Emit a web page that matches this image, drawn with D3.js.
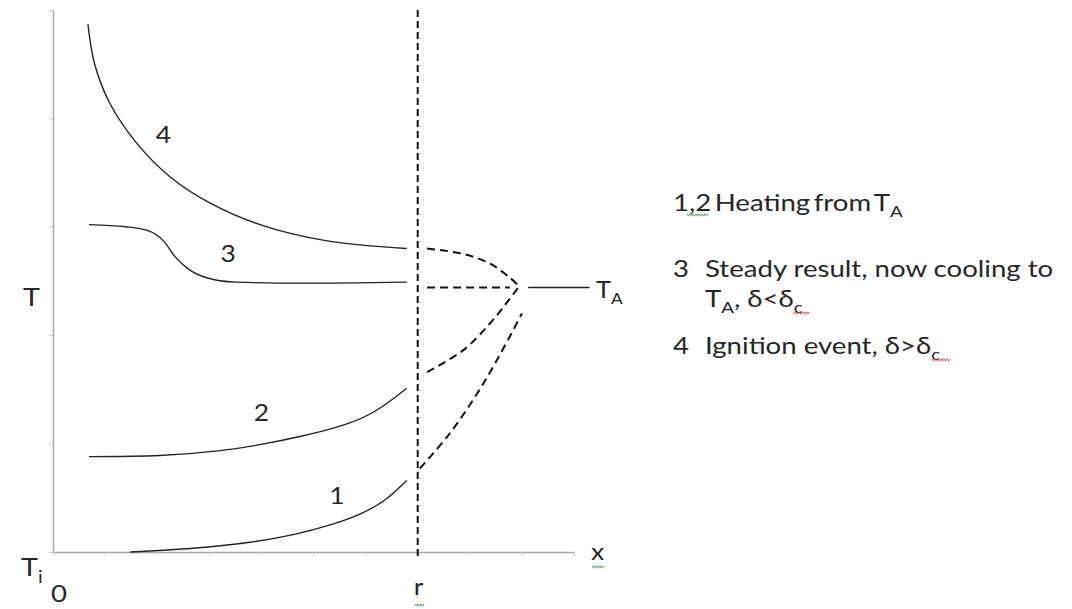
<!DOCTYPE html>
<html>
<head>
<meta charset="utf-8">
<script src="https://cdn.jsdelivr.net/npm/d3@7"></script>
<style>
  html, body { margin: 0; padding: 0; background: #fff; }
  svg { display: block; }
  text { font-family: Lato, "Noto Sans", sans-serif; fill: #262626; }
</style>
</head>
<body>
<svg id="chart" width="1072" height="609"></svg>
<script>
// Temperature profiles across a slab, centre (0) to surface (r)
const xTicks = d3.range(0, 11);
const yTicks = d3.range(0, 6);
const rValue = 7;           // surface position
const tAmbient = 2.44;      // ambient temperature level T_A

// solid profiles inside the body, [x, T]
const profile1 = [[1.48, 0], [2.69, 0.035], [3.78, 0.09], [4.61, 0.16], [5.32, 0.25], [5.89, 0.35], [6.37, 0.48], [6.79, 0.66]];
const profile2 = [[0.69, 0.88], [2.05, 0.89], [3.21, 0.935], [3.97, 0.99], [4.74, 1.065], [5.57, 1.17], [6.22, 1.31], [6.79, 1.51]];
const profile3 = [[0.69, 3.02], [1.40, 3.00], [1.85, 2.96], [2.12, 2.87], [2.35, 2.72], [2.60, 2.61], [2.95, 2.53], [3.50, 2.49], [4.74, 2.48], [6.79, 2.49]];
const profile4 = [[0.67, 4.87], [0.80, 4.50], [1.09, 4.14], [1.61, 3.77], [2.25, 3.46], [3.01, 3.22], [3.97, 3.02], [5.26, 2.87], [6.79, 2.80]];

// dashed boundary-layer links from the surface towards T_A
const link4 = [[7.18, 2.80], [7.87, 2.75], [8.39, 2.66], [8.77, 2.53], [8.93, 2.46]];
const link3 = [[7.18, 2.44], [8.77, 2.44]];
const link2 = [[7.18, 1.66], [7.87, 1.86], [8.39, 2.11], [8.71, 2.30], [8.93, 2.44]];
const link1 = [[7.04, 0.77], [7.56, 1.06], [8.06, 1.40], [8.52, 1.77], [9.00, 2.20]];
const ambientLine = [[9.12, tAmbient], [10.3, tAmbient]];

// curve number labels [x, T, text]
const curveLabels = [[5.45, 0.52, "1"], [4.0, 1.28, "2"], [3.36, 2.75, "3"], [2.12, 3.85, "4"]];

const svg = d3.select("#chart");
const x = d3.scaleLinear().domain([0, 10]).range([53, 574]);
const y = d3.scaleLinear().domain([0, 5]).range([552, 10]);

// axes
const yAxis = svg.append("g").attr("transform", `translate(${x(0)},0)`)
  .call(d3.axisLeft(y).tickValues(yTicks).tickSize(4).tickSizeOuter(0).tickFormat(""));
const xAxis = svg.append("g").attr("transform", `translate(0,${y(0)})`)
  .call(d3.axisBottom(x).tickValues(xTicks).tickSize(4).tickSizeOuter(0).tickFormat(""));
[yAxis, xAxis].forEach(a => {
  a.select(".domain").attr("stroke", "#a8a8a8").attr("stroke-width", 1.5);
  a.selectAll(".tick line").attr("stroke", "#c4c4c4").attr("stroke-width", 1);
});

// surface line at r
svg.append("line")
  .attr("x1", x(rValue)).attr("x2", x(rValue))
  .attr("y1", y(5)).attr("y2", y(0) + 4)
  .attr("stroke", "#111").attr("stroke-width", 2).attr("stroke-dasharray", "7,4");

const natural = d3.line().x(d => x(d[0])).y(d => y(d[1])).curve(d3.curveNatural);
const smooth = d3.line().x(d => x(d[0])).y(d => y(d[1])).curve(d3.curveMonotoneX);
const bend = d3.line().x(d => x(d[0])).y(d => y(d[1])).curve(d3.curveCatmullRom.alpha(0.5));

[profile1, profile2].forEach(p => {
  svg.append("path").attr("d", natural(p))
    .attr("fill", "none").attr("stroke", "#222").attr("stroke-width", 1.4);
});
svg.append("path").attr("d", smooth(profile3))
  .attr("fill", "none").attr("stroke", "#222").attr("stroke-width", 1.4);
svg.append("path").attr("d", bend(profile4))
  .attr("fill", "none").attr("stroke", "#222").attr("stroke-width", 1.4);

[link4, link3, link2, link1].forEach(p => {
  svg.append("path").attr("d", bend(p))
    .attr("fill", "none").attr("stroke", "#111").attr("stroke-width", 2).attr("stroke-dasharray", "8,5");
});

svg.append("path").attr("d", smooth(ambientLine))
  .attr("fill", "none").attr("stroke", "#222").attr("stroke-width", 1.4);

// text helper: parts are [string, isSubscript]
function label(px, py, parts, size, sx, anchor) {
  const t = svg.append("text")
    .attr("transform", `translate(${px},${py}) scale(${sx},1)`)
    .style("font-size", size + "px")
    .attr("text-anchor", anchor || "start");
  let shifted = false;
  parts.forEach(([s, sub]) => {
    const ts = t.append("tspan").text(s);
    if (sub && !shifted) { ts.attr("dy", size * 0.28).style("font-size", (size * 0.68) + "px"); shifted = true; }
    else if (!sub && shifted) { ts.attr("dy", -size * 0.28); shifted = false; }
  });
  return t;
}

curveLabels.forEach(([cx, cy, s]) => label(x(cx), y(cy) + 8, [[s]], 23, 1.15, "middle"));

label(23, 306, [["T"]], 25, 1.15);
label(21, 576, [["T"], ["i", true]], 25, 1.15);
label(51, 602, [["0"]], 24, 1.15);
label(x(rValue) - 4, 595, [["r"]], 23, 1.15);
label(591, 560, [["x"]], 23, 1.15);
label(596, 298, [["T"], ["A", true]], 23, 1.1);

// legend
const lx = 673, tx = 705, ls = 23, lsx = 1.2;
label(lx, 211, [["1,2 Heating from T"], ["A", true]], ls, lsx).style("word-spacing", "-3px");
label(lx, 277, [["3"]], ls, lsx);
label(tx, 277, [["Steady result, now cooling to"]], ls, lsx);
label(tx, 307, [["T"], ["A", true], [", δ<δ"], ["c", true]], ls, lsx);
label(lx, 354, [["4"]], ls, lsx);
label(tx, 354, [["Ignition event, δ>δ"], ["c", true]], ls, lsx);

// proofing squiggles under a few words
function squiggle(x0, x1, yy, color) {
  const pts = [];
  for (let xx = x0, i = 0; xx <= x1; xx += 1.5, i++) pts.push([xx, yy + (i % 2 ? 1.2 : -1.2)]);
  svg.append("path").attr("d", d3.line()(pts)).attr("fill", "none")
    .attr("stroke", color).attr("stroke-width", 0.9);
}
squiggle(687, 708, 215, "#3b9a4a");
squiggle(592, 604, 567, "#3b9a4a");
squiggle(415, 424, 605, "#3b9a4a");
squiggle(793, 810, 313, "#d04545");
squiggle(932, 950, 360, "#d04545");
</script>
</body>
</html>
